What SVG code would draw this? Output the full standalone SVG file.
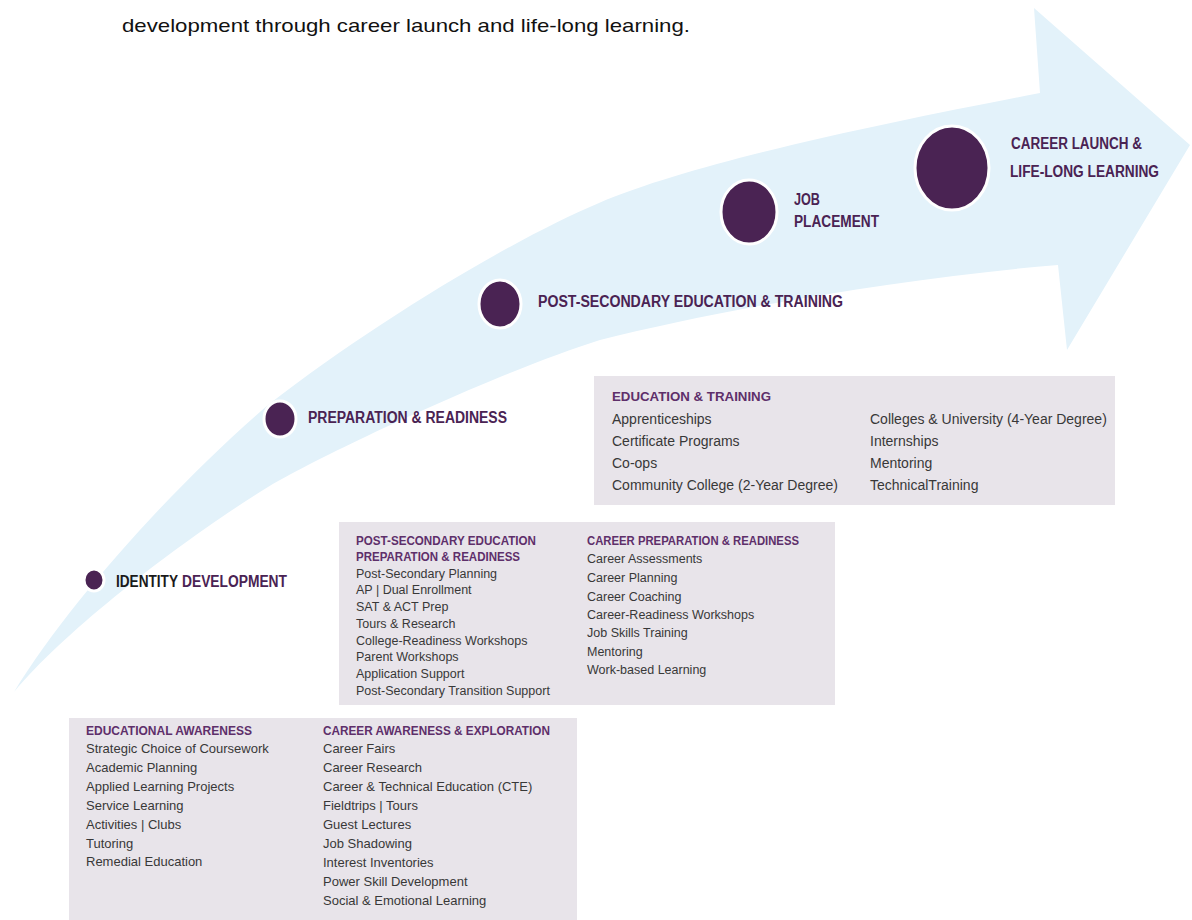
<svg xmlns="http://www.w3.org/2000/svg" width="1192" height="920" viewBox="0 0 1192 920">
<style>
.band{fill:#e3f2fa}
.dot{fill:#4a2353;stroke:#ffffff;stroke-width:3}
.lbl{font-family:"Liberation Sans",Arial,sans-serif;font-weight:bold;font-size:16px;fill:#4a2353}
.box{fill:#e8e4ea}
.hd{font-family:"Liberation Sans",Arial,sans-serif;font-weight:bold;font-size:12px;fill:#5e2f6a}
.tx{font-family:"Liberation Sans",Arial,sans-serif;font-size:13px;fill:#383838}
.tx14{font-family:"Liberation Sans",Arial,sans-serif;font-size:14px;fill:#383838}
.tx125{font-family:"Liberation Sans",Arial,sans-serif;font-size:12.5px;fill:#383838}
.intro{font-family:"Liberation Sans",Arial,sans-serif;font-size:19px;fill:#111111}
</style>
<rect width="1192" height="920" fill="#ffffff"/>
<text class="intro" x="122" y="32" textLength="568" lengthAdjust="spacingAndGlyphs">development through career launch and life-long learning.</text>
<g id="connectors">
<path class="band" d="M14,692 C70,600 180,480 268,405 C380,318 520,236 599,203 C700,160 900,120 1040,93 L1034,8 L1190,145 L1067,350 L1058,265 C900,278 720,310 600,340 C510,368 340,445 268,487 C190,535 70,625 14,692 Z"/>
</g>
<g id="stage-identity">
<ellipse class="dot" cx="94" cy="580" rx="10" ry="11"/>
<text class="lbl" x="116" y="587" textLength="62" lengthAdjust="spacingAndGlyphs" fill="#1a1a1a" style="fill:#1a1a1a">IDENTITY</text>
<text class="lbl" x="182" y="587" textLength="105" lengthAdjust="spacingAndGlyphs">DEVELOPMENT</text>
</g>
<g id="stage-preparation">
<ellipse class="dot" cx="280" cy="419" rx="16" ry="18"/>
<text class="lbl" x="308" y="423" textLength="199" lengthAdjust="spacingAndGlyphs">PREPARATION &amp; READINESS</text>
</g>
<g id="stage-postsecondary">
<ellipse class="dot" cx="500" cy="304" rx="21" ry="24"/>
<text class="lbl" x="538" y="307" textLength="305" lengthAdjust="spacingAndGlyphs">POST-SECONDARY EDUCATION &amp; TRAINING</text>
</g>
<g id="stage-job">
<ellipse class="dot" cx="749" cy="212" rx="28" ry="32"/>
<text class="lbl" x="794" y="205" textLength="26" lengthAdjust="spacingAndGlyphs">JOB</text>
<text class="lbl" x="794" y="227" textLength="85" lengthAdjust="spacingAndGlyphs">PLACEMENT</text>
</g>
<g id="stage-career">
<ellipse class="dot" cx="952" cy="168" rx="37" ry="42"/>
<text class="lbl" x="1011" y="149" textLength="131" lengthAdjust="spacingAndGlyphs">CAREER LAUNCH &amp;</text>
<text class="lbl" x="1010" y="177" textLength="149" lengthAdjust="spacingAndGlyphs">LIFE-LONG LEARNING</text>
</g>
<g id="box-education-training">
<rect class="box" x="594" y="376" width="521" height="129"/>
<text class="hd" x="612" y="401" textLength="159" lengthAdjust="spacingAndGlyphs">EDUCATION &amp; TRAINING</text>
<text class="tx14" x="612" y="424">Apprenticeships</text>
<text class="tx14" x="612" y="446">Certificate Programs</text>
<text class="tx14" x="612" y="468">Co-ops</text>
<text class="tx14" x="612" y="490">Community College (2-Year Degree)</text>
<text class="tx14" x="870" y="424">Colleges &amp; University (4-Year Degree)</text>
<text class="tx14" x="870" y="446">Internships</text>
<text class="tx14" x="870" y="468">Mentoring</text>
<text class="tx14" x="870" y="490">TechnicalTraining</text>
</g>
<g id="box-preparation">
<rect class="box" x="339" y="522" width="496" height="183"/>
<text class="hd" x="356" y="545" textLength="180" lengthAdjust="spacingAndGlyphs">POST-SECONDARY EDUCATION</text>
<text class="hd" x="356" y="561" textLength="164" lengthAdjust="spacingAndGlyphs">PREPARATION &amp; READINESS</text>
<text class="tx125" x="356" y="578">Post-Secondary Planning</text>
<text class="tx125" x="356" y="594">AP | Dual Enrollment</text>
<text class="tx125" x="356" y="611">SAT &amp; ACT Prep</text>
<text class="tx125" x="356" y="628">Tours &amp; Research</text>
<text class="tx125" x="356" y="645">College-Readiness Workshops</text>
<text class="tx125" x="356" y="661">Parent Workshops</text>
<text class="tx125" x="356" y="678">Application Support</text>
<text class="tx125" x="356" y="695">Post-Secondary Transition Support</text>
<text class="hd" x="587" y="545" textLength="212" lengthAdjust="spacingAndGlyphs">CAREER PREPARATION &amp; READINESS</text>
<text class="tx125" x="587" y="563">Career Assessments</text>
<text class="tx125" x="587" y="582">Career Planning</text>
<text class="tx125" x="587" y="601">Career Coaching</text>
<text class="tx125" x="587" y="619">Career-Readiness Workshops</text>
<text class="tx125" x="587" y="637">Job Skills Training</text>
<text class="tx125" x="587" y="656">Mentoring</text>
<text class="tx125" x="587" y="674">Work-based Learning</text>
</g>
<g id="box-awareness">
<rect class="box" x="69" y="718" width="508" height="202"/>
<text class="hd" x="86" y="735" textLength="166" lengthAdjust="spacingAndGlyphs">EDUCATIONAL AWARENESS</text>
<text class="tx" x="86" y="753">Strategic Choice of Coursework</text>
<text class="tx" x="86" y="772">Academic Planning</text>
<text class="tx" x="86" y="791">Applied Learning Projects</text>
<text class="tx" x="86" y="810">Service Learning</text>
<text class="tx" x="86" y="829">Activities | Clubs</text>
<text class="tx" x="86" y="848">Tutoring</text>
<text class="tx" x="86" y="866">Remedial Education</text>
<text class="hd" x="323" y="735" textLength="227" lengthAdjust="spacingAndGlyphs">CAREER AWARENESS &amp; EXPLORATION</text>
<text class="tx" x="323" y="753">Career Fairs</text>
<text class="tx" x="323" y="772">Career Research</text>
<text class="tx" x="323" y="791">Career &amp; Technical Education (CTE)</text>
<text class="tx" x="323" y="810">Fieldtrips | Tours</text>
<text class="tx" x="323" y="829">Guest Lectures</text>
<text class="tx" x="323" y="848">Job Shadowing</text>
<text class="tx" x="323" y="867">Interest Inventories</text>
<text class="tx" x="323" y="886">Power Skill Development</text>
<text class="tx" x="323" y="905">Social &amp; Emotional Learning</text>
</g>
</svg>
